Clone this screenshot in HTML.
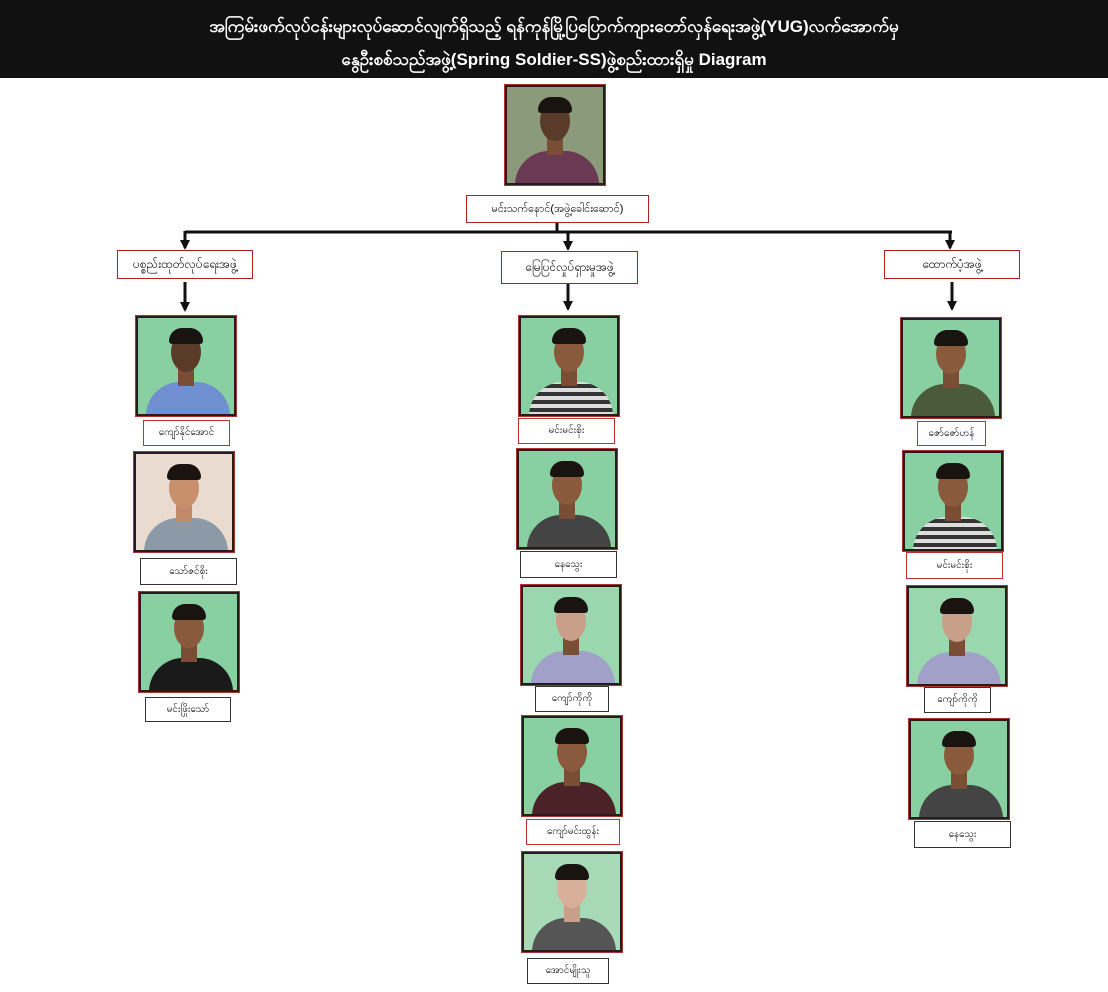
<!DOCTYPE html>
<html><head><meta charset="utf-8">
<style>
body{margin:0;width:1108px;height:992px;background:#fff;position:relative;overflow:hidden;font-family:"Liberation Sans","Noto Sans CJK SC",sans-serif}
.hdr{position:absolute;left:0;top:0;width:1108px;height:78px;background:#111;color:#fff;text-align:center;font-size:17px;font-weight:bold}
.hdr div{position:absolute;left:0;width:100%}
.p{position:absolute;width:96px;height:96px;border:2px solid #2a1a1a;box-shadow:0 0 0 1px #a33;overflow:hidden;background:#88d0a2}
.p .t{position:absolute;left:8px;top:64px;width:84px;height:50px;border-radius:34px 34px 0 0;background:#555}
.p .n{position:absolute;left:40px;top:50px;width:16px;height:18px;background:#7a4e34}
.p .h{position:absolute;left:33px;top:14px;width:30px;height:40px;border-radius:50%;background:#8a5a3c}
.p .hr{position:absolute;left:31px;top:10px;width:34px;height:16px;border-radius:17px 17px 4px 4px;background:#1a1411}
.l{position:absolute;border:1px solid #b33;background:#fff;font-size:10px;text-align:center;color:#000;white-space:nowrap;overflow:hidden}
.g{border-color:#a22;font-size:12px}
</style></head><body>
<div class="hdr">
<div style="top:16px">အကြမ်းဖက်လုပ်ငန်းများလုပ်ဆောင်လျက်ရှိသည့် ရန်ကုန်မြို့ပြပြောက်ကျားတော်လှန်ရေးအဖွဲ့(YUG)လက်အောက်မှ</div>
<div style="top:49px">နွေဦးစစ်သည်အဖွဲ့(Spring Soldier-SS)ဖွဲ့စည်းထားရှိမှု Diagram</div>
</div>

<svg style="position:absolute;left:0;top:0" width="1108" height="992">
<defs><marker id="a" markerUnits="userSpaceOnUse" markerWidth="10" markerHeight="10" refX="8" refY="5" orient="auto"><path d="M0,0 L10,5 L0,10 z" fill="#111"/></marker></defs>
<g stroke="#111" stroke-width="3" fill="none">
<line x1="557" y1="222" x2="557" y2="232"/>
<line x1="185" y1="232" x2="952" y2="232"/>
<line x1="185" y1="231" x2="185" y2="248" marker-end="url(#a)"/>
<line x1="568" y1="232" x2="568" y2="249" marker-end="url(#a)"/>
<line x1="950" y1="231" x2="950" y2="248" marker-end="url(#a)"/>
<line x1="185" y1="282" x2="185" y2="310" marker-end="url(#a)"/>
<line x1="568" y1="284" x2="568" y2="309" marker-end="url(#a)"/>
<line x1="952" y1="282" x2="952" y2="309" marker-end="url(#a)"/>
</g></svg>

<!-- top -->
<div class="p" style="left:505px;top:85px;background:#8a9a7a"><div class="t" style="background:#6a3a55"></div><div class="n"></div><div class="h" style="background:#5a3a28"></div><div class="hr"></div></div>
<div class="l g" style="left:466px;top:195px;width:181px;height:26px;line-height:26px;font-size:11px">မင်းသက်နောင်(အဖွဲ့ခေါင်းဆောင်)</div>

<div class="l g" style="left:117px;top:250px;width:134px;height:27px;line-height:27px">ပစ္စည်းထုတ်လုပ်ရေးအဖွဲ့</div>
<div class="l g" style="left:501px;top:251px;width:135px;height:31px;line-height:31px">မြေပြင်လှုပ်ရှားမှုအဖွဲ့</div>
<div class="l g" style="left:884px;top:250px;width:134px;height:27px;line-height:27px">ထောက်ပံ့အဖွဲ့</div>

<!-- left -->
<div class="p" style="left:136px;top:316px"><div class="t" style="background:#6f8fd0"></div><div class="n"></div><div class="h" style="background:#5a3a28"></div><div class="hr"></div></div>
<div class="l" style="left:143px;top:420px;width:85px;height:24px;line-height:24px">ကျော်နိုင်အောင်</div>
<div class="p" style="left:134px;top:452px;background:#e9dbcf"><div class="t" style="background:#8c9aa8"></div><div class="n" style="background:#c08a6a"></div><div class="h" style="background:#c8906c"></div><div class="hr"></div></div>
<div class="l" style="left:140px;top:558px;width:95px;height:25px;line-height:25px;border-color:#333">သော်ဇင်စိုး</div>
<div class="p" style="left:139px;top:592px"><div class="t" style="background:#1a1a1a"></div><div class="n"></div><div class="h"></div><div class="hr"></div></div>
<div class="l" style="left:145px;top:697px;width:84px;height:23px;line-height:23px;border-color:#333">မင်းဖြိုးသော်</div>

<!-- middle -->
<div class="p" style="left:519px;top:316px"><div class="t" style="background:repeating-linear-gradient(0deg,#ddd 0 4px,#333 4px 8px)"></div><div class="n"></div><div class="h"></div><div class="hr"></div></div>
<div class="l" style="left:518px;top:418px;width:95px;height:24px;line-height:24px">မင်းမင်းစိုး</div>
<div class="p" style="left:517px;top:449px"><div class="t" style="background:#444"></div><div class="n"></div><div class="h"></div><div class="hr"></div></div>
<div class="l" style="left:520px;top:551px;width:95px;height:25px;line-height:25px;border-color:#333">နေသွေး</div>
<div class="p" style="left:521px;top:585px;background:#9ad6ae"><div class="t" style="background:#a0a0c8"></div><div class="n"></div><div class="h" style="background:#c8a08a"></div><div class="hr"></div></div>
<div class="l" style="left:535px;top:686px;width:72px;height:24px;line-height:24px;border-color:#333">ကျော်ကိုကို</div>
<div class="p" style="left:522px;top:716px"><div class="t" style="background:#4a2228"></div><div class="n"></div><div class="h"></div><div class="hr"></div></div>
<div class="l" style="left:526px;top:819px;width:92px;height:24px;line-height:24px">ကျော်မင်းထွန်း</div>
<div class="p" style="left:522px;top:852px;background:#a8dab8"><div class="t" style="background:#555"></div><div class="n" style="background:#c8a08a"></div><div class="h" style="background:#d8b09a"></div><div class="hr"></div></div>
<div class="l" style="left:527px;top:958px;width:80px;height:24px;line-height:24px;border-color:#333">အောင်မျိုးသူ</div>

<!-- right -->
<div class="p" style="left:901px;top:318px"><div class="t" style="background:#4a5a3a"></div><div class="n"></div><div class="h"></div><div class="hr"></div></div>
<div class="l" style="left:917px;top:421px;width:67px;height:23px;line-height:23px">ဇော်ဇော်ဟန်</div>
<div class="p" style="left:903px;top:451px"><div class="t" style="background:repeating-linear-gradient(0deg,#ddd 0 4px,#333 4px 8px)"></div><div class="n"></div><div class="h"></div><div class="hr"></div></div>
<div class="l" style="left:906px;top:552px;width:95px;height:25px;line-height:25px">မင်းမင်းစိုး</div>
<div class="p" style="left:907px;top:586px;background:#9ad6ae"><div class="t" style="background:#a0a0c8"></div><div class="n"></div><div class="h" style="background:#c8a08a"></div><div class="hr"></div></div>
<div class="l" style="left:924px;top:687px;width:65px;height:24px;line-height:24px;border-color:#333">ကျော်ကိုကို</div>
<div class="p" style="left:909px;top:719px"><div class="t" style="background:#444"></div><div class="n"></div><div class="h"></div><div class="hr"></div></div>
<div class="l" style="left:914px;top:821px;width:95px;height:25px;line-height:25px;border-color:#333">နေသွေး</div>
</body></html>
